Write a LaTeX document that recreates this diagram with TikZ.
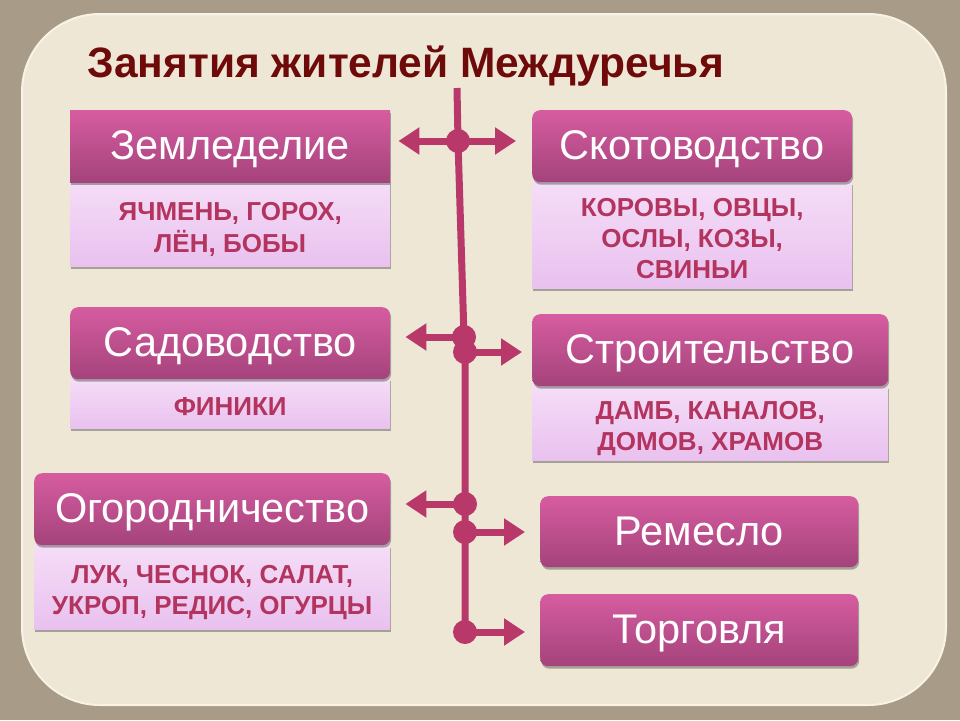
\documentclass[tikz,border=0pt]{standalone}
\usepackage{fontspec}
\setmainfont{Liberation Sans}
\usetikzlibrary{shadows,arrows.meta}
\definecolor{outerbg}{HTML}{A89C88}
\definecolor{panelC}{HTML}{EFE7D6}
\definecolor{panelEdge}{HTML}{F9F3E6}
\definecolor{hdrTop}{HTML}{D65CA0}
\definecolor{hdrBot}{HTML}{A4437B}
\definecolor{bodyTop}{HTML}{F5DDF7}
\definecolor{bodyBot}{HTML}{E9C1EF}
\definecolor{bodyText}{HTML}{B3345E}
\definecolor{connC}{HTML}{B9386A}
\definecolor{titleC}{HTML}{6E0A0A}
\newcommand{\bodylines}[1]{\raisebox{-6pt}[\height][\depth]{\begin{tabular}{@{}c@{}}#1\end{tabular}}}
\tikzset{
  boxshadow/.style={drop shadow={shadow xshift=1pt,shadow yshift=-2.5pt,opacity=.45,fill=black!70}},
  hdr/.style={rectangle, top color=hdrTop, bottom color=hdrBot, text=white,
    font=\fontsize{41.5}{48}\selectfont, anchor=north west, inner sep=0pt,
    text height=36pt, text depth=9pt,
    rounded corners=8pt, boxshadow},
  bodybox/.style={rectangle, top color=bodyTop, bottom color=bodyBot, text=bodyText,
    font=\bfseries\fontsize{26}{31}\selectfont, anchor=north west,
    inner sep=0pt, boxshadow},
  conn/.style={line width=7pt, draw=connC},
  arr/.style={conn, -{Triangle[length=21pt,width=26pt]}},
  jn/.style={circle, fill=connC, minimum size=24pt, inner sep=0pt},
}
\begin{document}
\begin{tikzpicture}[x=1pt,y=-1pt]
\useasboundingbox (0,0) rectangle (960,720);
\fill[outerbg] (0,0) rectangle (960,720);
\filldraw[fill=panelC, draw=panelEdge, line width=2pt, rounded corners=78pt] (22,14) rectangle (946,705);

\node[anchor=base west, font=\bfseries\fontsize{42.5}{48}\selectfont, text=titleC] (title) at (84,77) {Занятия жителей Междуречья};

% left column
\node[bodybox, minimum width=320pt, minimum height=84pt] (zemb) at (70,182) {\bodylines{ЯЧМЕНЬ, ГОРОХ,\\ЛЁН, БОБЫ}};
\node[hdr, rounded corners=0pt, minimum width=320pt, minimum height=72pt] (zem) at (70,110) {Земледелие};

\node[bodybox, minimum width=320pt, minimum height=50pt] (sadb) at (70,378) {\bodylines{ФИНИКИ}};
\node[hdr, minimum width=320pt, minimum height=72pt] (sad) at (70,307) {Садоводство};

\node[bodybox, minimum width=356pt, minimum height=84pt] (ogorb) at (34,545) {\bodylines{ЛУК, ЧЕСНОК, САЛАТ,\\УКРОП, РЕДИС, ОГУРЦЫ}};
\node[hdr, minimum width=356pt, minimum height=72pt] (ogor) at (34,473) {Огородничество};

% right column
\node[bodybox, minimum width=320pt, minimum height=106pt] (skotb) at (532,182) {\bodylines{КОРОВЫ, ОВЦЫ,\\ОСЛЫ, КОЗЫ,\\СВИНЬИ}};
\node[hdr, minimum width=320pt, minimum height=72pt] (skot) at (532,110) {Скотоводство};

\node[bodybox, minimum width=356pt, minimum height=74pt] (strob) at (532,386) {\bodylines{ДАМБ, КАНАЛОВ,\\ДОМОВ, ХРАМОВ}};
\node[hdr, minimum width=356pt, minimum height=72pt] (stro) at (532,314) {Строительство};

\node[hdr, minimum width=318pt, minimum height=71pt] (rem) at (540,496) {Ремесло};
\node[hdr, minimum width=318pt, minimum height=72pt] (torg) at (540,594) {Торговля};

% connectors
\coordinate (top) at (457,88);
\node[jn] (j1) at (458,141) {};
\node[jn] (j2a) at (464,337) {};
\node[jn] (j2b) at (465,352) {};
\node[jn] (j3a) at (465,504) {};
\node[jn] (j3b) at (465,532) {};
\node[jn] (j4) at (465,632) {};

\draw[conn] (top) -- (j1.center) -- (j2a.center) -- (j2b.center) -- (j3a.center) -- (j3b.center) -- (j4.center);

\draw[arr, shorten >=8pt] (j1.center) -- (j1.center -| zem.east);
\draw[arr, shorten >=16pt] (j1.center) -- (j1.center -| skot.west);
\draw[arr, shorten >=15pt] (j2a.center) -- (j2a.center -| sad.east);
\draw[arr, shorten >=10pt] (j2b.center) -- (j2b.center -| stro.west);
\draw[arr, shorten >=15pt] (j3a.center) -- (j3a.center -| ogor.east);
\draw[arr, shorten >=15pt] (j3b.center) -- (j3b.center -| rem.west);
\draw[arr, shorten >=15pt] (j4.center) -- (j4.center -| torg.west);
\end{tikzpicture}
\end{document}
